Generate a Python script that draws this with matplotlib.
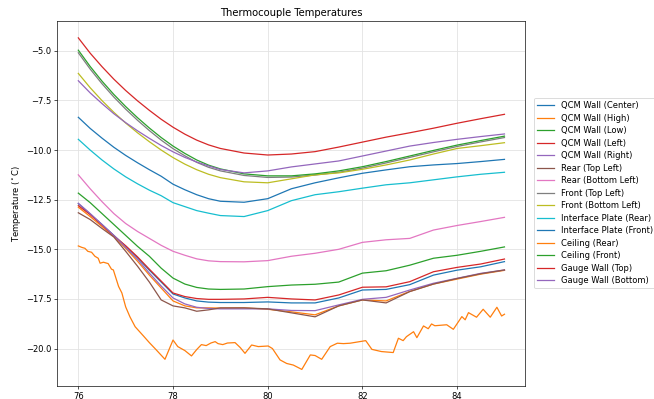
import matplotlib
matplotlib.use("Agg")
import matplotlib.pyplot as plt

x = [76, 76.25, 76.5, 76.75, 77, 77.25, 77.5, 77.75, 78, 78.25, 78.5, 78.75, 79,
     79.5, 80, 80.5, 81, 81.5, 82, 82.5, 83, 83.5, 84, 84.5, 85]

qcm_center = [-12.70, -13.22, -13.75, -14.30, -14.85, -15.42, -16.05, -16.65, -17.25, -17.45, -17.60, -17.66, -17.68,
              -17.68, -17.65, -17.70, -17.70, -17.45, -17.05, -17.02, -16.78, -16.30, -16.05, -15.88, -15.62]
qcm_high = [-12.88, -13.35, -13.85, -14.35, -14.95, -15.60, -16.30, -16.95, -17.60, -17.85, -17.95, -17.95, -17.96,
            -17.95, -18.02, -18.15, -18.30, -17.85, -17.55, -17.60, -17.12, -16.75, -16.50, -16.25, -16.06]
qcm_low = [-12.17, -12.65, -13.20, -13.75, -14.30, -14.85, -15.35, -15.95, -16.45, -16.75, -16.92, -17.00, -17.02,
           -17.00, -16.88, -16.80, -16.76, -16.65, -16.20, -16.08, -15.80, -15.45, -15.30, -15.10, -14.88]
qcm_left = [-12.80, -13.25, -13.78, -14.32, -14.82, -15.38, -16.00, -16.60, -17.20, -17.38, -17.48, -17.52, -17.52,
            -17.50, -17.42, -17.50, -17.55, -17.30, -16.91, -16.89, -16.63, -16.13, -15.91, -15.74, -15.49]
qcm_right = [-12.68, -13.20, -13.75, -14.30, -14.90, -15.50, -16.20, -16.85, -17.45, -17.75, -17.92, -17.98, -18.00,
             -18.00, -18.00, -18.08, -18.09, -17.80, -17.52, -17.42, -17.05, -16.71, -16.46, -16.21, -16.04]
rear_top_left = [-13.16, -13.50, -13.95, -14.38, -15.10, -15.85, -16.65, -17.55, -17.85, -17.95, -18.12, -18.05, -17.95,
                 -17.95, -18.00, -18.20, -18.40, -17.85, -17.55, -17.70, -17.13, -16.75, -16.47, -16.23, -16.04]
rear_bottom_left = [-11.25, -11.95, -12.60, -13.20, -13.70, -14.10, -14.45, -14.80, -15.10, -15.30, -15.48, -15.58, -15.62,
                    -15.63, -15.57, -15.35, -15.20, -15.00, -14.65, -14.52, -14.45, -14.03, -13.80, -13.60, -13.39]
front_top_left = [-5.10, -5.92, -6.66, -7.33, -7.94, -8.50, -9.02, -9.50, -9.93, -10.29, -10.62, -10.87, -11.05,
                  -11.28, -11.38, -11.36, -11.26, -11.12, -10.91, -10.65, -10.37, -10.09, -9.82, -9.59, -9.37]
front_bottom_left = [-6.14, -6.86, -7.51, -8.10, -8.64, -9.13, -9.58, -10.00, -10.38, -10.71, -10.99, -11.22, -11.39,
                     -11.60, -11.65, -11.45, -11.25, -11.15, -10.97, -10.75, -10.50, -10.20, -9.92, -9.78, -9.63]
interface_rear = [-9.46, -10.00, -10.50, -10.95, -11.35, -11.70, -12.02, -12.30, -12.65, -12.85, -13.05, -13.18, -13.30,
                  -13.35, -13.05, -12.55, -12.25, -12.10, -11.92, -11.75, -11.65, -11.50, -11.35, -11.22, -11.12]
interface_front = [-8.35, -8.91, -9.40, -9.86, -10.27, -10.64, -10.99, -11.32, -11.72, -12.00, -12.25, -12.45, -12.58,
                   -12.63, -12.45, -11.95, -11.65, -11.40, -11.17, -11.00, -10.84, -10.75, -10.68, -10.58, -10.47]
ceiling_front = [-4.97, -5.79, -6.53, -7.20, -7.81, -8.37, -8.89, -9.37, -9.80, -10.17, -10.50, -10.76, -10.95,
                 -11.20, -11.30, -11.30, -11.20, -11.05, -10.84, -10.58, -10.30, -10.02, -9.75, -9.52, -9.30]
gauge_top = [-4.35, -5.12, -5.80, -6.43, -7.00, -7.52, -8.00, -8.45, -8.85, -9.20, -9.50, -9.74, -9.92,
             -10.15, -10.25, -10.20, -10.08, -9.85, -9.60, -9.35, -9.13, -8.90, -8.65, -8.42, -8.20]
gauge_bottom = [-6.51, -7.12, -7.66, -8.17, -8.62, -9.03, -9.41, -9.77, -10.09, -10.37, -10.60, -10.80, -10.98,
                -11.15, -11.05, -10.85, -10.70, -10.55, -10.30, -10.05, -9.80, -9.62, -9.46, -9.32, -9.19]

ceiling_rear_x = [76.0, 76.07, 76.14, 76.2, 76.28, 76.35, 76.42, 76.46, 76.53, 76.63, 76.7, 76.74, 76.85, 76.92,
                  77.0, 77.09, 77.2, 77.37, 77.5, 77.62, 77.83, 78.0, 78.1, 78.25, 78.39, 78.5, 78.6, 78.7, 78.8,
                  78.89, 78.95, 79.05, 79.15, 79.31, 79.42, 79.52, 79.66, 79.8, 80.01, 80.1, 80.26, 80.4, 80.54,
                  80.72, 80.9, 81.0, 81.14, 81.32, 81.47, 81.6, 81.74, 82.07, 82.2, 82.4, 82.65, 82.76, 82.86,
                  82.93, 83.08, 83.15, 83.29, 83.39, 83.46, 83.53, 83.78, 83.92, 84.1, 84.17, 84.24, 84.41,
                  84.55, 84.7, 84.84, 84.94, 85.0]
ceiling_rear = [-14.83, -14.9, -14.95, -15.1, -15.15, -15.35, -15.45, -15.7, -15.65, -15.72, -16.0, -16.04, -16.87,
                -17.2, -17.9, -18.4, -18.9, -19.35, -19.7, -20.0, -20.54, -19.57, -19.9, -20.1, -20.37, -20.05,
                -19.8, -19.85, -19.72, -19.65, -19.75, -19.8, -19.72, -19.7, -19.95, -20.24, -19.82, -19.9,
                -19.87, -20.0, -20.57, -20.75, -20.83, -21.05, -20.32, -20.35, -20.54, -19.9, -19.73, -19.75,
                -19.73, -19.6, -20.04, -20.15, -20.2, -19.48, -19.6, -19.4, -19.15, -19.45, -18.86, -19.0,
                -18.76, -18.85, -18.8, -19.03, -18.39, -18.55, -18.19, -18.42, -18.02, -18.42, -17.92, -18.36,
                -18.27]

labels = ["QCM Wall (Center)", "QCM Wall (High)", "QCM Wall (Low)", "QCM Wall (Left)", "QCM Wall (Right)",
          "Rear (Top Left)", "Rear (Bottom Left)", "Front (Top Left)", "Front (Bottom Left)",
          "Interface Plate (Rear)", "Interface Plate (Front)", "Ceiling (Rear)", "Ceiling (Front)",
          "Gauge Wall (Top)", "Gauge Wall (Bottom)"]

series = [(x, qcm_center), (x, qcm_high), (x, qcm_low), (x, qcm_left), (x, qcm_right),
          (x, rear_top_left), (x, rear_bottom_left), (x, front_top_left), (x, front_bottom_left),
          (x, interface_rear), (x, interface_front), (ceiling_rear_x, ceiling_rear), (x, ceiling_front),
          (x, gauge_top), (x, gauge_bottom)]

fig = plt.figure(figsize=(654 / 60, 399 / 60), dpi=60)
ax = fig.add_axes([57.3 / 654, 1 - 385.7 / 399, (525.3 - 57.3) / 654, (385.7 - 21) / 399])
for (xs, ys), lab in zip(series, labels):
    ax.plot(xs, ys, lw=1.5, label=lab)

ax.set_xlim(75.556, 85.44)
ax.set_ylim(-21.87, -3.50)
ax.set_xticks([76, 78, 80, 82, 84])
ax.set_yticks([-5, -7.5, -10, -12.5, -15, -17.5, -20])
ax.set_yticklabels(["\u22125.0", "\u22127.5", "\u221210.0", "\u221212.5", "\u221215.0", "\u221217.5", "\u221220.0"])
ax.grid(True, color="#e3e3e3", lw=1.0)
ax.set_axisbelow(True)
ax.set_title("Thermocouple Temperatures")
ax.set_ylabel(r"Temperature ($^\circ$C)")
fig.legend(loc="upper left", bbox_to_anchor=(534 / 654, 1 - 97.7 / 399), borderaxespad=0,
           labelspacing=0.42)
fig.savefig("out.png", dpi=60)
